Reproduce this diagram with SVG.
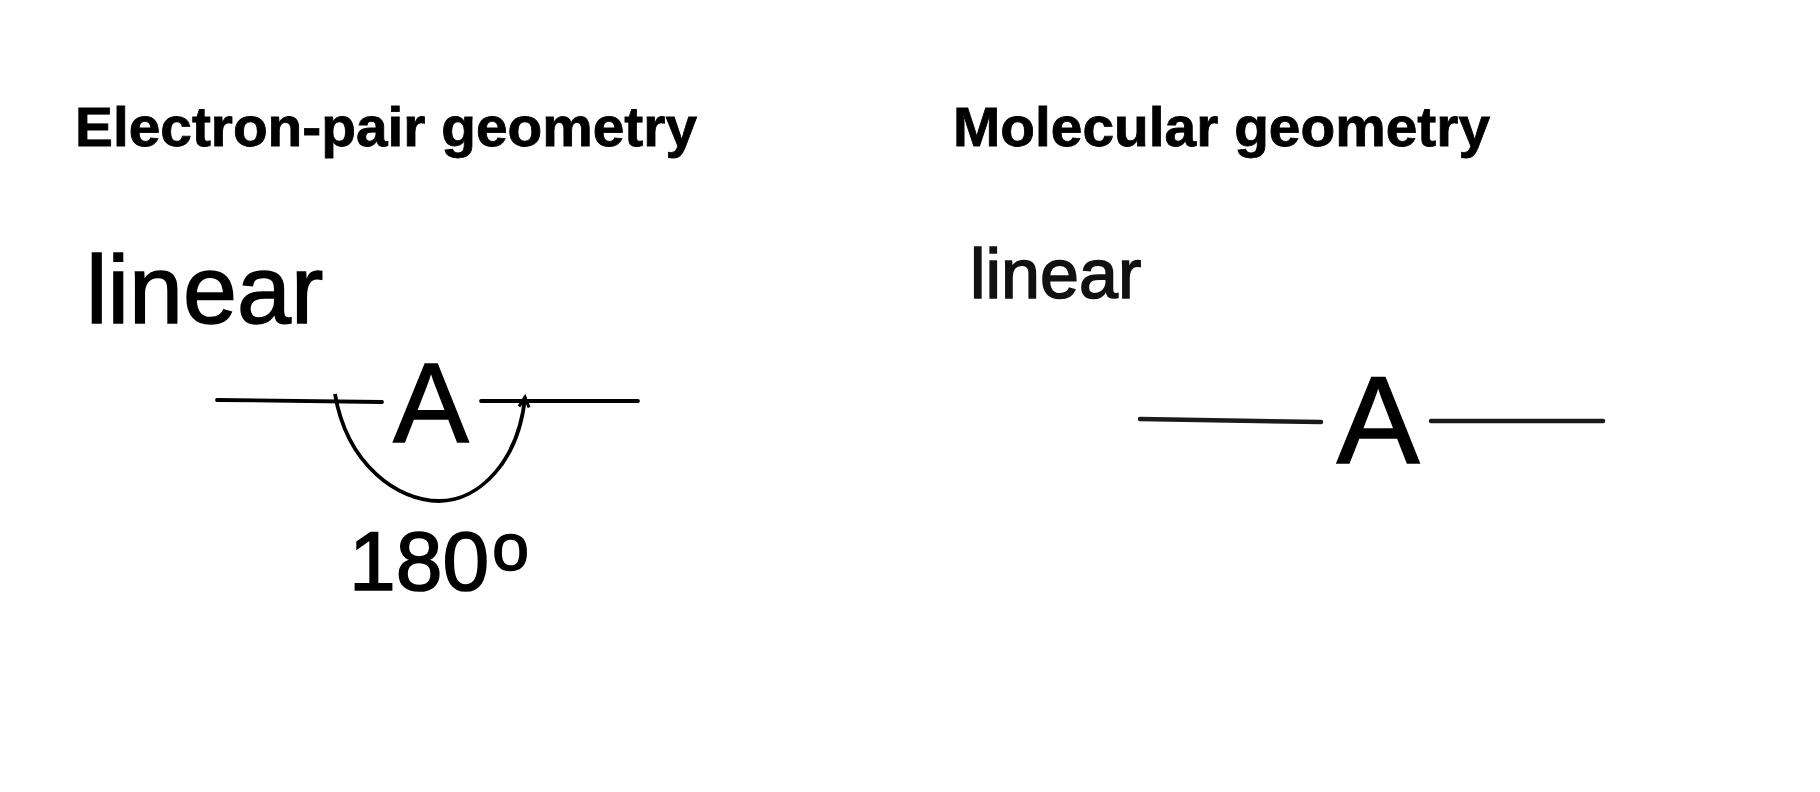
<svg xmlns="http://www.w3.org/2000/svg" width="1820" height="792" viewBox="0 0 1820 792">
  <style>
    .title { font-family: "Liberation Sans", Arial, sans-serif; font-weight: bold; font-size: 56px; fill: #000; stroke: #000; stroke-width: 0.8; }
    .lbl { font-family: "Liberation Sans", Arial, sans-serif; fill: #000; stroke: #000; stroke-width: 1.6; }
    .lbl2 { font-family: "Liberation Sans", Arial, sans-serif; fill: #111; stroke: #111; stroke-width: 1.6; }
    .bond { stroke: #000; stroke-width: 3.8; stroke-linecap: round; fill: none; }
    .bond2 { stroke: #1a1a1a; stroke-width: 4.5; stroke-linecap: round; fill: none; }
    .arc { stroke: #000; stroke-width: 3.8; fill: none; }
  </style>
  <defs>
    <marker id="arrow" markerUnits="userSpaceOnUse" markerWidth="16" markerHeight="16" refX="12" refY="6" orient="auto">
      <path d="M2,1 L12,6 L2,11" fill="none" stroke="#000" stroke-width="3" stroke-linejoin="miter"/>
    </marker>
  </defs>
  <rect width="1820" height="792" fill="#fff"/>

  <g id="title-electron-pair">
    <text class="title" x="75" y="146" textLength="622" lengthAdjust="spacingAndGlyphs">Electron-pair geometry</text>
  </g>
  <g id="title-molecular">
    <text class="title" x="953" y="146" textLength="537" lengthAdjust="spacingAndGlyphs">Molecular geometry</text>
  </g>

  <g id="left-label">
    <text class="lbl" x="86" y="323" font-size="97">linear</text>
  </g>
  <g id="left-atom">
    <text class="lbl" x="431" y="442" font-size="113" text-anchor="middle">A</text>
  </g>
  <g id="left-angle-label">
    <text class="lbl" x="349" y="590" font-size="84">180<tspan font-size="66" dx="3" dy="-20">o</tspan></text>
  </g>

  <g id="right-label">
    <text class="lbl2" x="970" y="298" font-size="70">linear</text>
  </g>
  <g id="right-atom">
    <text class="lbl" x="1378" y="463" font-size="124" text-anchor="middle">A</text>
  </g>

  <g id="connectors">
    <line class="bond" x1="217" y1="400" x2="382" y2="402"/>
    <line class="bond" x1="481" y1="401" x2="638" y2="401"/>
    <path class="arc" d="M335,394 C347,465 398,501 439,501 C480,501 519,460 525,397" marker-end="url(#arrow)"/>
    <line class="bond2" x1="1140" y1="419" x2="1321" y2="422"/>
    <line class="bond2" x1="1431" y1="421" x2="1603" y2="421"/>
  </g>
</svg>
